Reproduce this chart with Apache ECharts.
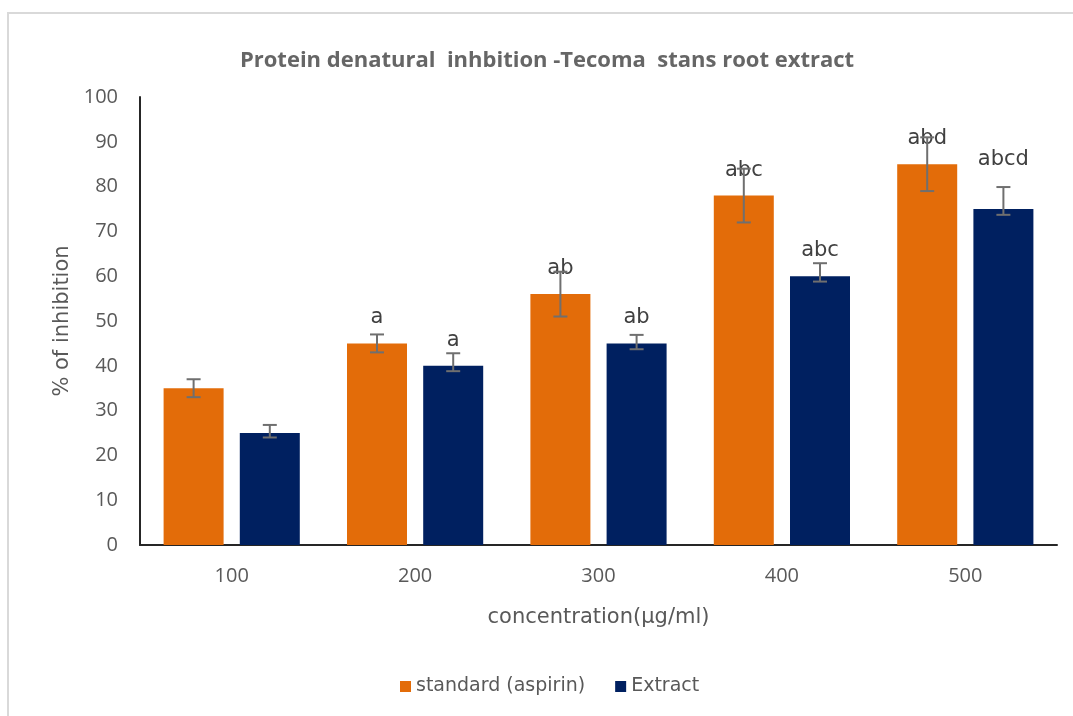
<!DOCTYPE html>
<html>
<head>
<meta charset="utf-8">
<script src="https://cdn.jsdelivr.net/npm/echarts@6/dist/echarts.min.js"></script>
<style>
  html, body { margin: 0; padding: 0; background: #fff; }
  #main { width: 1073px; height: 716px; }
  .frame { position: absolute; left: 7px; top: 12px; right: 0; bottom: 0;
           border-left: 2px solid #d9d9d9; border-top: 2px solid #d9d9d9; pointer-events: none; }
</style>
</head>
<body>
<div id="main"></div>
<div class="frame"></div>
<script>
// concentrations (x axis)
const categories = ['100', '200', '300', '400', '500'];

// standard (aspirin)
const standardValues = [35, 45, 56, 78, 85];
const standardLow = [33, 43, 51, 72, 79];
const standardHigh = [37, 47, 61, 84, 91];
const standardLetters = ['', 'a', 'ab', 'abc', 'abd'];

// Extract
const extractValues = [25, 40, 45, 60, 75];
const extractLow = [24, 38.8, 43.7, 58.8, 73.7];
const extractHigh = [26.8, 42.8, 46.9, 62.9, 79.9];
const extractLetters = ['', 'a', 'ab', 'abc', 'abcd'];

const yTicks = [0, 10, 20, 30, 40, 50, 60, 70, 80, 90, 100];

const ORANGE = '#E36C09';
const NAVY = '#002060';
const TEXT = '#595959';
const BAR_W = 60;
const BAR_GAP = 0.27;

let myChart = echarts.init(document.getElementById('main'));

// error bar drawn around the bar, shifted left or right inside the category
function errorSeries(name, low, high, side) {
  return {
    type: 'custom',
    name: name + ' err',
    z: 5,
    silent: true,
    data: low.map((l, i) => [i, l, high[i]]),
    renderItem: function (params, api) {
      let shift = side * (BAR_W + BAR_W * BAR_GAP) / 2;
      let lo = api.coord([api.value(0), api.value(1)]);
      let hi = api.coord([api.value(0), api.value(2)]);
      let x = lo[0] + shift;
      let cap = 7;
      let style = {stroke: '#6f6f6f', lineWidth: 2};
      return {
        type: 'group',
        children: [
          {type: 'line', shape: {x1: x, y1: lo[1], x2: x, y2: hi[1]}, style: style},
          {type: 'line', shape: {x1: x - cap, y1: lo[1], x2: x + cap, y2: lo[1]}, style: style},
          {type: 'line', shape: {x1: x - cap, y1: hi[1], x2: x + cap, y2: hi[1]}, style: style}
        ]
      };
    }
  };
}

function barData(values, letters, lastOffset) {
  return values.map((v, i) => {
    let item = {value: v, letter: letters[i]};
    if (lastOffset && i === values.length - 1) {
      item.label = {offset: [0, lastOffset]};
    }
    return item;
  });
}

const letterLabel = {
  show: true,
  position: 'top',
  distance: 15,
  fontSize: 21,
  color: '#404040',
  fontFamily: 'DejaVu Sans',
  formatter: function (p) { return p.data.letter; }
};

let option = {
  animation: false,
  backgroundColor: 'transparent',
  title: {
    text: 'Protein denatural  inhbition -Tecoma  stans root extract',
    left: 542,
    textAlign: 'center',
    top: 45,
    textStyle: {fontSize: 22, fontWeight: 'bold', color: '#666666', fontFamily: 'Open Sans'}
  },
  legend: {
    bottom: 15,
    left: 395,
    itemWidth: 11,
    itemHeight: 11,
    itemGap: 30,
    icon: 'rect',
    data: ['standard (aspirin)', 'Extract'],
    textStyle: {fontSize: 19, color: TEXT, fontFamily: 'DejaVu Sans'}
  },
  grid: {left: 140, right: 16, top: 97, bottom: 171},
  xAxis: {
    type: 'category',
    data: categories,
    name: 'concentration(\u00b5g/ml)',
    nameLocation: 'middle',
    nameGap: 62,
    nameTextStyle: {fontSize: 21, color: TEXT, fontFamily: 'DejaVu Sans'},
    axisLine: {lineStyle: {color: '#262626', width: 2}},
    axisTick: {show: false},
    axisLabel: {fontSize: 20, color: TEXT, margin: 21, fontFamily: 'Open Sans'}
  },
  yAxis: {
    type: 'value',
    min: yTicks[0],
    max: yTicks[yTicks.length - 1],
    interval: yTicks[1] - yTicks[0],
    name: '% of inhibition',
    nameLocation: 'middle',
    nameGap: 66,
    nameTextStyle: {fontSize: 21, color: TEXT, fontFamily: 'DejaVu Sans'},
    axisLine: {show: true, lineStyle: {color: '#262626', width: 2}},
    axisTick: {show: false},
    splitLine: {show: false},
    axisLabel: {fontSize: 20, color: TEXT, margin: 22, fontFamily: 'Open Sans'}
  },
  series: [
    {
      name: 'standard (aspirin)',
      type: 'bar',
      barWidth: BAR_W,
      barGap: (BAR_GAP * 100) + '%',
      itemStyle: {color: ORANGE},
      label: letterLabel,
      data: barData(standardValues, standardLetters)
    },
    {
      name: 'Extract',
      type: 'bar',
      barWidth: BAR_W,
      itemStyle: {color: NAVY},
      label: letterLabel,
      data: barData(extractValues, extractLetters, -24)
    },
    errorSeries('standard (aspirin)', standardLow, standardHigh, -1),
    errorSeries('Extract', extractLow, extractHigh, 1)
  ]
};
myChart.setOption(option);
</script>
</body>
</html>
